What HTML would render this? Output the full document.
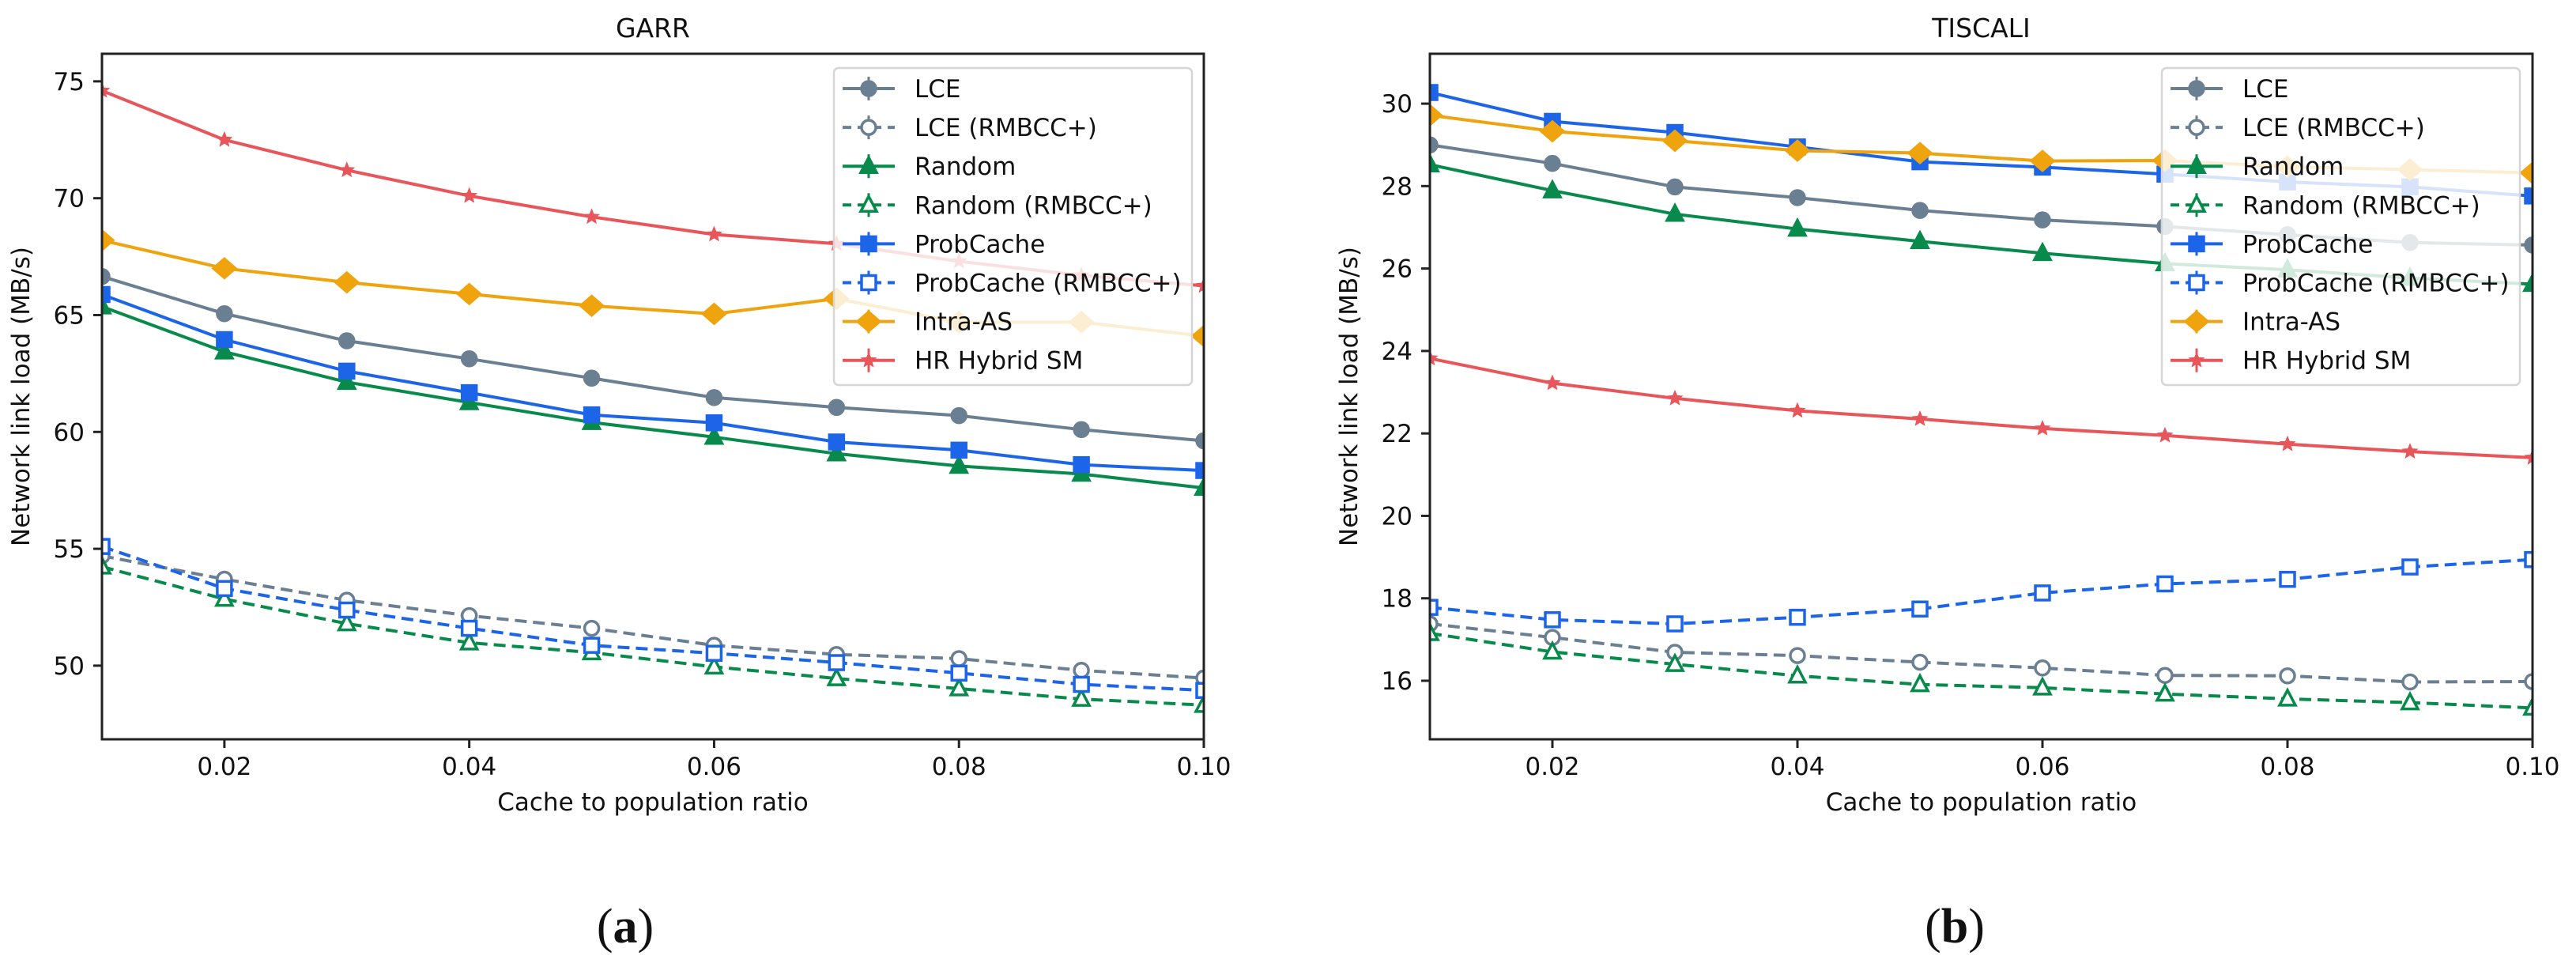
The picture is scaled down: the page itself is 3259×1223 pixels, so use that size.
<!DOCTYPE html>
<html><head><meta charset="utf-8">
<style>
html,body{margin:0;padding:0;background:#fff;}
svg{display:block;font-family:"DejaVu Sans","Liberation Sans",sans-serif;}
</style></head>
<body>
<svg id="fig" xmlns="http://www.w3.org/2000/svg" width="3259" height="1223" viewBox="0 0 3259 1223">
<rect width="3259" height="1223" fill="#fff"/>
</svg>
<script>
// ---- data ----
const xValues = [0.01,0.02,0.03,0.04,0.05,0.06,0.07,0.08,0.09,0.10];
const xTicks = [0.02,0.04,0.06,0.08,0.10];
const xTickLabels = ["0.02","0.04","0.06","0.08","0.10"];
const seriesNames = ["LCE","LCE (RMBCC+)","Random","Random (RMBCC+)","ProbCache","ProbCache (RMBCC+)","Intra-AS","HR Hybrid SM"];

const garrLCE      = [66.65,65.06,63.9,63.13,62.3,61.47,61.05,60.7,60.1,59.62];
const garrLCER     = [54.7,53.7,52.8,52.14,51.6,50.87,50.48,50.3,49.8,49.47];
const garrRandom   = [65.36,63.43,62.13,61.26,60.41,59.78,59.07,58.54,58.2,57.6];
const garrRandomR  = [54.23,52.85,51.8,50.98,50.56,49.95,49.45,49.02,48.57,48.31];
const garrProb     = [65.88,63.95,62.6,61.68,60.73,60.39,59.57,59.22,58.6,58.35];
const garrProbR    = [55.1,53.3,52.38,51.6,50.87,50.53,50.13,49.68,49.2,48.94];
const garrIntra    = [68.2,67.0,66.4,65.9,65.4,65.05,65.7,64.7,64.7,64.1];
const garrHR       = [74.6,72.5,71.2,70.1,69.2,68.45,68.05,67.3,66.7,66.25];
const garrYTicks   = [50,55,60,65,70,75];

const tisLCE       = [29.0,28.55,27.98,27.72,27.41,27.18,27.02,26.82,26.63,26.57];
const tisLCER      = [17.38,17.05,16.69,16.61,16.45,16.31,16.13,16.12,15.97,15.98];
const tisRandom    = [28.52,27.89,27.32,26.96,26.66,26.37,26.12,25.97,25.77,25.62];
const tisRandomR   = [17.15,16.7,16.4,16.12,15.91,15.83,15.68,15.56,15.47,15.34];
const tisProb      = [30.27,29.57,29.3,28.95,28.59,28.46,28.29,28.1,27.98,27.76];
const tisProbR     = [17.78,17.48,17.38,17.54,17.74,18.13,18.35,18.46,18.76,18.94];
const tisIntra     = [29.72,29.33,29.1,28.86,28.8,28.61,28.62,28.47,28.4,28.32];
const tisHR        = [23.82,23.22,22.85,22.55,22.35,22.12,21.95,21.74,21.56,21.41];
const tisYTicks    = [16,18,20,22,24,26,28,30];

// ---- styles ----
const styles = [
 {c:"#6b7f92", m:"circle", fill:true, dash:false},
 {c:"#6b7f92", m:"circle", fill:false, dash:true},
 {c:"#078a4b", m:"tri", fill:true, dash:false},
 {c:"#078a4b", m:"tri", fill:false, dash:true},
 {c:"#1c64e8", m:"square", fill:true, dash:false},
 {c:"#1c64e8", m:"square", fill:false, dash:true},
 {c:"#efa30c", m:"diamond", fill:true, dash:false},
 {c:"#e8555a", m:"star", fill:true, dash:false}
];
const NS="http://www.w3.org/2000/svg";
const svg=document.getElementById('fig');
function el(tag,attrs,parent){const e=document.createElementNS(NS,tag);for(const k in attrs)e.setAttribute(k,attrs[k]);(parent||svg).appendChild(e);return e;}

function marker(g,type,x,y,c,fill){
  let e;
  const f=fill?c:"#fff";
  if(type==="circle") e=el('circle',{cx:x,cy:y,r:9,fill:f,stroke:c,'stroke-width':3.5},g);
  else if(type==="square") e=el('rect',{x:x-9,y:y-9,width:18,height:18,fill:f,stroke:c,'stroke-width':3.5},g);
  else if(type==="tri") e=el('polygon',{points:`${x},${y-11} ${x+10},${y+8} ${x-10},${y+8}`,fill:f,stroke:c,'stroke-width':3.5,'stroke-linejoin':'miter'},g);
  else if(type==="diamond") e=el('polygon',{points:`${x},${y-13} ${x+15},${y} ${x},${y+13} ${x-15},${y}`,fill:f,stroke:c,'stroke-width':2},g);
  else { let p=[];for(let i=0;i<10;i++){const r=i%2?4:9;const a=-Math.PI/2+i*Math.PI/5;p.push((x+r*Math.cos(a)).toFixed(1)+","+(y+r*Math.sin(a)).toFixed(1));}
    e=el('polygon',{points:p.join(' '),fill:c,stroke:c,'stroke-width':1.5},g);}
  return e;
}

function panel(opts){
  const {L,R,T,B,ymin,ymax,yTicks,series,title,ylab,sub,subX,id,legL}=opts;
  const xmin=0.01,xmax=0.10;
  const sx=v=>L+(v-xmin)/(xmax-xmin)*(R-L);
  const sy=v=>B-(v-ymin)/(ymax-ymin)*(B-T);
  const g=el('g',{});
  
  
  const cp=el('clipPath',{id:id+'clip'},g);
  el('rect',{x:L,y:T,width:R-L,height:B-T},cp);
  // title
  const t=el('text',{x:(L+R)/2,y:47,'text-anchor':'middle','font-size':33,fill:'#111'},g);
  t.textContent=title;
  
  
  // series
  const sg=el('g',{'clip-path':`url(#${id}clip)`},g);
  series.forEach((vals,i)=>{
    const s=styles[i];
    const lg=el('g',{},sg);
    
    
    const pts=vals.map((v,j)=>sx(xValues[j]).toFixed(1)+","+sy(v).toFixed(1)).join(' ');
    const pl=el('polyline',{points:pts,fill:'none',stroke:s.c,'stroke-width':4,'stroke-dasharray':s.dash?'15 8':'none'},lg);
    
    
    vals.forEach((v,j)=>{
      const m=marker(lg,s.m,sx(xValues[j]),sy(v),s.c,s.fill);
      
      
    });
  });
  // frame
  const fr=el('rect',{x:L,y:T,width:R-L,height:B-T,fill:'none',stroke:'#222','stroke-width':3},g);
  
  
  // x ticks
  xTicks.forEach((v,k)=>{
    const x=sx(v);
    el('line',{x1:x,y1:B,x2:x,y2:B+11,stroke:'#222','stroke-width':3},g);
    const tx=el('text',{x:x,y:980,'text-anchor':'middle','font-size':31,fill:'#111'},g);
    tx.textContent=xTickLabels[k];
    
    
  });
  yTicks.forEach(v=>{
    const y=sy(v);
    el('line',{x1:L-11,y1:y,x2:L,y2:y,stroke:'#222','stroke-width':3},g);
    const ty=el('text',{x:L-22,y:y+11,'text-anchor':'end','font-size':31,fill:'#111'},g);
    ty.textContent=String(v);
    
    
  });
  const xl=el('text',{x:(L+R)/2,y:1025,'text-anchor':'middle','font-size':31,fill:'#111'},g);
  xl.textContent="Cache to population ratio";
  
  
  const yl=el('text',{x:0,y:0,'text-anchor':'middle','font-size':31,fill:'#111',transform:`translate(${ylab+11},${(T+B)/2}) rotate(-90)`},g);
  yl.textContent="Network link load (MB/s)";
  
  
  // legend
  const lgd=el('g',{},g);
  
  
  el('rect',{x:legL,y:86,width:453,height:401,rx:6,fill:'#fff','fill-opacity':0.82,stroke:'#d6d6d6','stroke-width':2.5},lgd);
  seriesNames.forEach((n,i)=>{
    const s=styles[i];
    const y=112+i*49.1;
    const e=el('g',{},lgd);
    
    
    el('line',{x1:legL+11,y1:y,x2:legL+77,y2:y,stroke:s.c,'stroke-width':4,'stroke-dasharray':s.dash?'11 8':'none'},e);
    el('line',{x1:legL+44,y1:y-15,x2:legL+44,y2:y+15,stroke:s.c,'stroke-width':3},e);
    marker(e,s.m,legL+44,y,s.c,s.fill);
    const tt=el('text',{x:legL+102,y:y+11,'font-size':31,fill:'#111'},e);
    tt.textContent=n;
  });
  const st=el('text',{x:subX,y:1192,'text-anchor':'middle','font-size':62,fill:'#111','font-family':'"Liberation Serif",serif'},g);
  st.innerHTML='(<tspan font-weight="bold">'+sub+'</tspan>)';
  
  
}

panel({id:'garr',L:129,R:1523,T:68,B:935,ymin:46.85,ymax:76.18,yTicks:garrYTicks,
  series:[garrLCE,garrLCER,garrRandom,garrRandomR,garrProb,garrProbR,garrIntra,garrHR],
  title:"GARR",ylab:26,sub:"a",subX:791,legL:1055});
panel({id:'tiscali',L:1809,R:3204,T:68,B:935,ymin:14.58,ymax:31.21,yTicks:tisYTicks,
  series:[tisLCE,tisLCER,tisRandom,tisRandomR,tisProb,tisProbR,tisIntra,tisHR],
  title:"TISCALI",ylab:1706,sub:"b",subX:2473,legL:2735});
</script>
</body></html>
